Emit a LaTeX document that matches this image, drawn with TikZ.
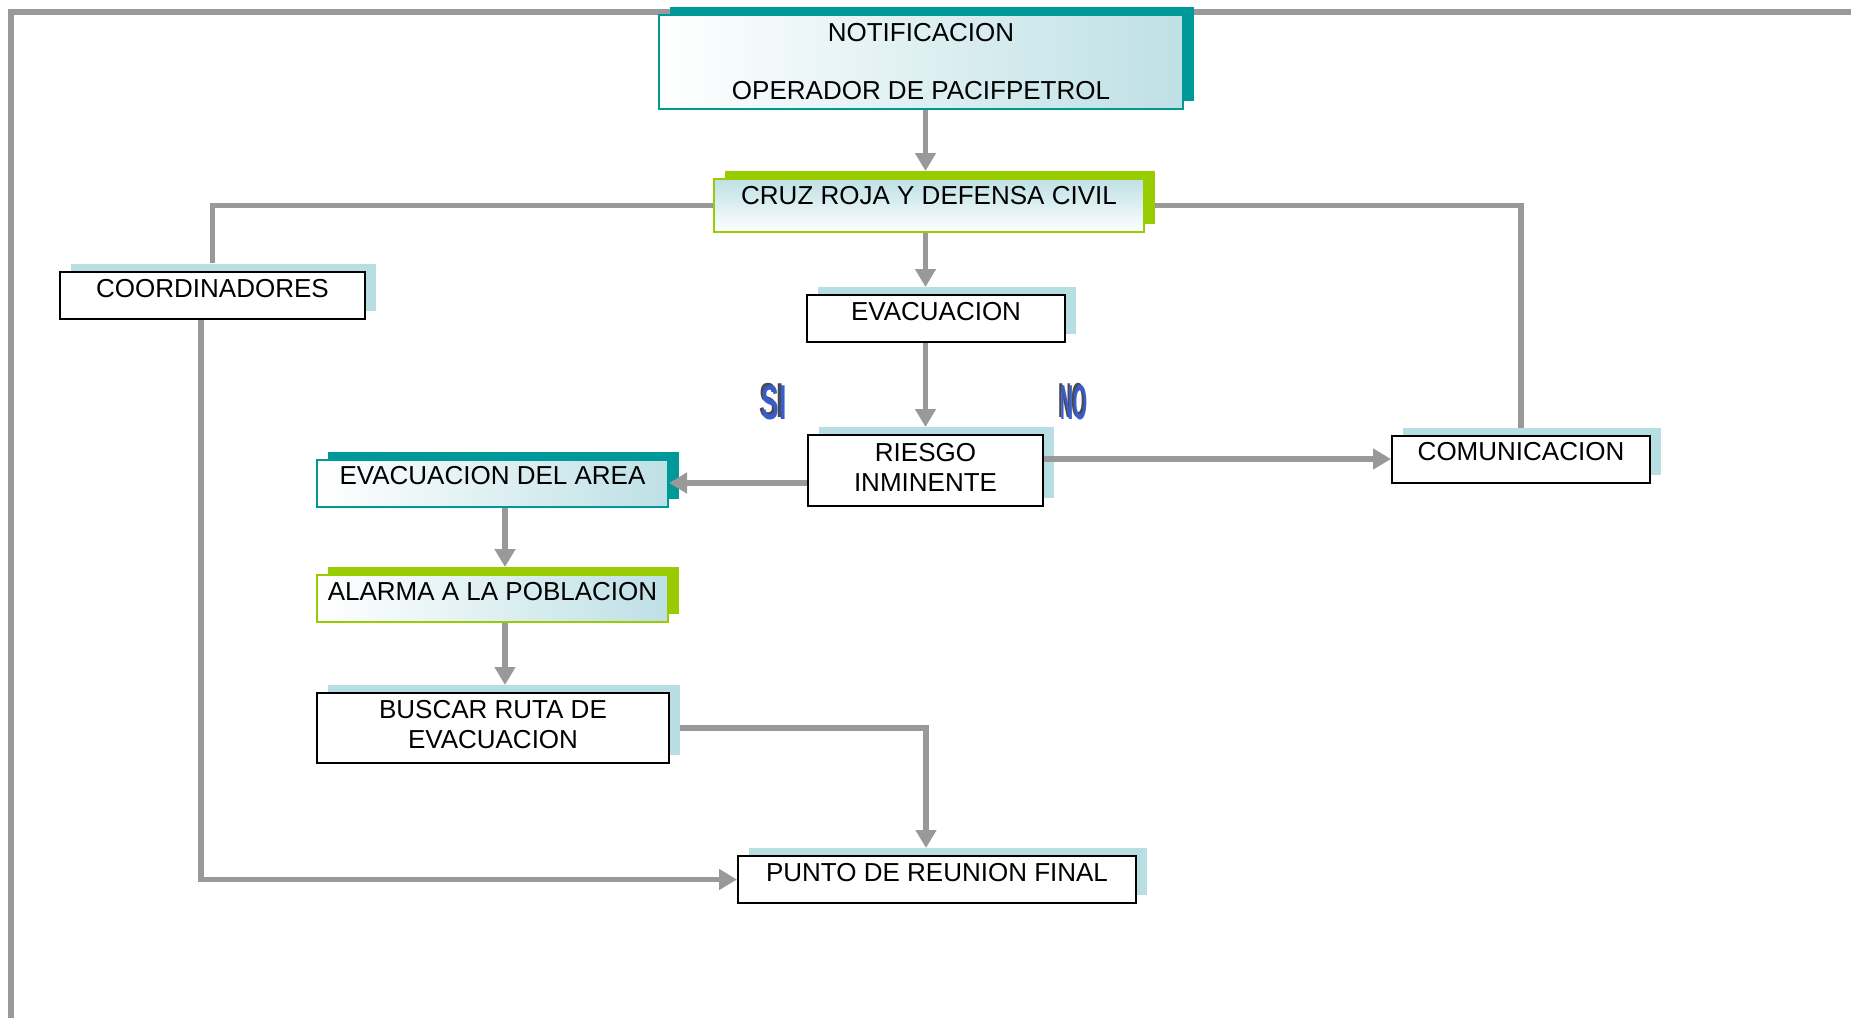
\documentclass[tikz,border=0pt]{standalone}
\usepackage{fontspec}
\setmainfont{Liberation Sans}
\usetikzlibrary{arrows.meta, shadows}
\definecolor{gr}{HTML}{999999}
\definecolor{tl}{HTML}{009999}
\definecolor{lm}{HTML}{99CC00}
\definecolor{cy}{HTML}{B7DFE3}
\definecolor{cyf}{HTML}{BEE0E5}
\definecolor{blu}{HTML}{3A5CCB}
\definecolor{relief}{HTML}{4A4A4A}
\newcommand{\raised}[1]{\makebox[0pt][l]{\color{relief}#1}\kern2.5pt\raisebox{-1pt}{#1}}

\begin{document}
\begin{tikzpicture}[
      x = 0.5pt, y = -0.5pt, % one unit = one pixel, y going down
      > = {Triangle[width=10pt, length=9pt]}, % arrow head style
      font = \fontsize{13pt}{15pt}\selectfont,
    ]

    \tikzstyle{box}=[
      draw = black,
      line width = 1pt,
      fill = white,
      inner sep = 0pt,
      general shadow = {shadow xshift=5.25pt, shadow yshift=4pt, fill=cy}
    ]
    \tikzstyle{tealbox}=[box, draw = tl, left color = white, right color = cyf,
      general shadow = {shadow xshift=5.25pt, shadow yshift=4pt, fill=tl}]
    \tikzstyle{limebox}=[box, draw = lm, left color = white, right color = cyf,
      general shadow = {shadow xshift=5.25pt, shadow yshift=4pt, fill=lm}]
    \tikzstyle{row}=[text height = 12.5pt, text depth = 11pt]
    \tikzstyle{link}=[draw = gr, line width = 2.75pt]
    \tikzstyle{arrow}=[link, ->, shorten > = 3.5pt]
    \tikzstyle{wordart}=[font = \fontsize{24.5pt}{24.5pt}\selectfont\bfseries,
      text = blu, inner sep = 0pt, transform shape]

    \useasboundingbox (0,0) rectangle (1851,1018);

    % frame
    \draw[link] (11,1018) |- (1851,12);

    \node[tealbox, align = center, minimum width = 262pt, minimum height = 47pt] (notif) [at={(921,62)}]
      {NOTIFICACION\\[14pt]OPERADOR DE PACIFPETROL};
    \node[limebox, row, text depth = 14pt, minimum width = 215pt,
      top color = cyf, bottom color = white] (cruz) [at={(929,205.5)}] {CRUZ ROJA Y DEFENSA CIVIL};
    \node[box, row, minimum width = 152.5pt] (coord) [at={(212.5,295.5)}] {COORDINADORES};
    \node[box, row, minimum width = 129pt] (evac) [at={(936,318.5)}] {EVACUACION};
    \node[box, align = center, text depth = 3.5pt, minimum width = 117.5pt, minimum height = 35.5pt] (riesgo)
      [at={(925.5,470.5)}] {RIESGO\\INMINENTE};
    \node[box, row, minimum width = 129pt] (comun) [at={(1521,459)}] {COMUNICACION};
    \node[tealbox, row, minimum width = 175.5pt] (area) [at={(492.5,483)}] {EVACUACION DEL AREA};
    \node[limebox, row, minimum width = 175.5pt] (alarm) [at={(492.5,598.5)}] {ALARMA A LA POBLACION};
    \node[box, align = center, text depth = 3.5pt, minimum width = 176pt, minimum height = 35pt] (buscar)
      [at={(493,728)}] {BUSCAR RUTA DE\\EVACUACION};
    \node[box, row, minimum width = 199pt] (punto) [at={(937,879.5)}] {PUNTO DE REUNION FINAL};

    % si / no
    \node[wordart] (si) [at={(773,402)}, xscale = 0.54] {\raised{SI}};
    \node[wordart] (no) [at={(1073,402)}, xscale = 0.37] {\raised{NO}};

    \draw[arrow] (notif.south -| riesgo) -- (cruz.north -| riesgo);
    \draw[arrow] (cruz.south -| riesgo) -- (evac.north -| riesgo);
    \draw[arrow] (evac.south -| riesgo) -- (riesgo.north);
    \draw[link, shorten > = 4pt] (cruz.west) -| (coord.north);
    \draw[link, shorten < = 5pt, shorten > = 3.5pt] (cruz.east) -| (comun.north);
    \draw[arrow, shorten > = 0pt] (riesgo.west |- area) -- (area.east);
    \draw[arrow, shorten > = 0pt] (riesgo.east |- comun) -- (comun.west);
    \draw[arrow] ([xshift=6.25pt]area.south) -- ([xshift=6.25pt]area.south |- alarm.north);
    \draw[arrow] ([xshift=6.25pt]alarm.south) -- ([xshift=6.25pt]alarm.south |- buscar.north);
    \draw[arrow, shorten < = 5pt] (buscar.east) -| ([xshift=-5.5pt]punto.north);
    \draw[arrow, shorten > = 0pt] ([xshift=-5.75pt]coord.south) |- (punto.west);
  \end{tikzpicture}
\end{document}
